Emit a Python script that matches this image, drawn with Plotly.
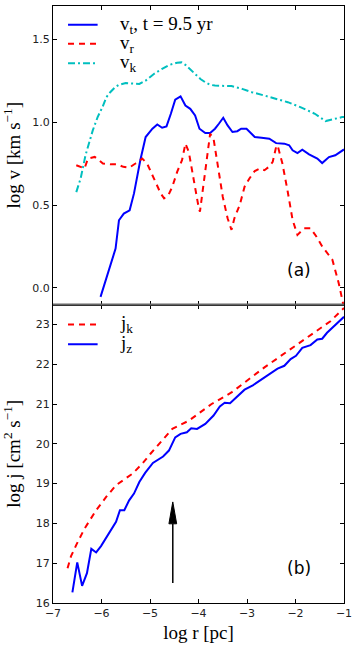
import plotly.graph_objects as go

# ---- panel (a): velocities ----
vt_x = [-6.02, -5.81, -5.71, -5.64, -5.54, -5.42, -5.33, -5.2, -5.14, -5.09, -4.95, -4.85,
        -4.75, -4.66, -4.57, -4.48, -4.37, -4.27, -4.17, -4.07, -3.98, -3.86, -3.76, -3.66,
        -3.58, -3.49, -3.40, -3.30, -3.20, -3.12, -3.01, -2.92, -2.84, -2.70, -2.54, -2.40,
        -2.23, -2.13, -2.06, -1.96, -1.86, -1.72, -1.62, -1.55, -1.45, -1.31, -1.18, -1.04, -1.0]
vt_y = [-0.054, 0.147, 0.237, 0.408, 0.448, 0.468, 0.57, 0.77, 0.85, 0.91, 0.96, 0.986,
        0.966, 0.974, 1.05, 1.135, 1.155, 1.10, 1.08, 1.04, 0.96, 0.934, 0.934, 0.96,
        0.99, 1.026, 0.98, 0.94, 0.945, 0.96, 0.96, 0.935, 0.91, 0.905, 0.90, 0.873,
        0.87, 0.86, 0.83, 0.813, 0.834, 0.805, 0.793, 0.78, 0.753, 0.789, 0.80, 0.83, 0.835]

vr_x = [-6.52, -6.43, -6.35, -6.28, -6.14, -6.05, -5.97, -5.8, -5.67, -5.55, -5.43, -5.3,
        -5.16, -5.06, -4.88, -4.78, -4.71, -4.62, -4.54, -4.44, -4.34, -4.27, -4.2, -4.1,
        -4.0, -3.97, -3.9, -3.83, -3.76, -3.69, -3.6, -3.5, -3.4, -3.32, -3.26, -3.15,
        -3.05, -2.95, -2.84, -2.74, -2.64, -2.55, -2.47, -2.40, -2.37, -2.27, -2.16, -2.06,
        -1.96, -1.82, -1.69, -1.57, -1.45, -1.35, -1.24, -1.11, -1.04, -1.0]
vr_y = [0.74, 0.73, 0.72, 0.78, 0.79, 0.77, 0.75, 0.745, 0.745, 0.73, 0.725, 0.75,
        0.78, 0.75, 0.63, 0.57, 0.54, 0.56, 0.61, 0.70, 0.77, 0.87, 0.82, 0.65,
        0.49, 0.46, 0.62, 0.80, 0.93, 0.90, 0.72, 0.55, 0.42, 0.35, 0.42, 0.50,
        0.61, 0.66, 0.705, 0.72, 0.71, 0.73, 0.76, 0.85, 0.86, 0.75, 0.58, 0.41,
        0.32, 0.36, 0.36, 0.31, 0.25, 0.21, 0.17, 0.03, -0.074, -0.12]

vk_x = [-6.52, -6.43, -6.33, -6.18, -6.08, -5.98, -5.9, -5.82, -5.72, -5.64, -5.5, -5.35,
        -5.22, -5.09, -4.92, -4.76, -4.6, -4.44, -4.35, -4.27, -4.1, -3.96, -3.86, -3.76,
        -3.66, -3.5, -3.32, -3.1, -2.9, -2.64, -2.4, -2.16, -1.9, -1.6, -1.38, -1.2, -1.04, -1.0]
vk_y = [0.578, 0.66, 0.80, 0.95, 1.03, 1.09, 1.15, 1.18, 1.21, 1.225, 1.235, 1.23,
        1.23, 1.25, 1.29, 1.32, 1.345, 1.358, 1.36, 1.345, 1.30, 1.26, 1.24, 1.225,
        1.22, 1.22, 1.217, 1.20, 1.18, 1.16, 1.14, 1.12, 1.09, 1.05, 1.006, 1.02, 1.03, 1.03]

# ---- panel (b): specific angular momentum ----
jk_x = [-6.70, -6.63, -6.52, -6.35, -6.11, -5.90, -5.70, -5.36, -5.16, -4.99, -4.54,
        -4.20, -3.73, -3.32, -2.64, -1.96, -1.28, -1.0]
jk_y = [16.875, 17.17, 17.46, 17.87, 18.33, 18.67, 18.96, 19.25, 19.5, 19.75, 20.375,
        20.58, 21.0, 21.29, 21.92, 22.5, 23.08, 23.415]

jz_x = [-6.60, -6.50, -6.40, -6.30, -6.21, -6.11, -6.01, -5.90, -5.80, -5.70, -5.62,
        -5.53, -5.43, -5.33, -5.22, -5.10, -4.94, -4.73, -4.61, -4.48, -4.37, -4.24,
        -4.15, -4.03, -3.86, -3.69, -3.56, -3.46, -3.35, -3.05, -2.88, -2.64, -2.37,
        -2.23, -2.10, -1.99, -1.86, -1.69, -1.55, -1.45, -1.35, -1.0]
jz_y = [16.265, 17.02, 16.43, 16.75, 17.36, 17.27, 17.43, 17.65, 17.82, 18.04, 18.33,
        18.33, 18.58, 18.75, 19.04, 19.27, 19.52, 19.68, 19.83, 20.16, 20.25, 20.29,
        20.39, 20.375, 20.5, 20.71, 20.94, 21.03, 21.02, 21.36, 21.47, 21.67, 21.89,
        21.96, 22.13, 22.21, 22.41, 22.48, 22.62, 22.64, 22.79, 23.19]

# arrow in panel (b)
arrow_x = -4.53
arrow_y0, arrow_y1 = 16.5, 18.54

BLUE, RED, CYAN = "#0000ff", "#ff0000", "#00bfbf"
DASH, DASHDOT = "6px,5px", "7px,3px,2px,3px"
SERIF = "Liberation Serif"
SANS = "DejaVu Sans"

fig = go.Figure()
fig.add_trace(go.Scatter(x=vt_x, y=vt_y, mode="lines", line=dict(color=BLUE, width=2),
                         xaxis="x", yaxis="y"))
fig.add_trace(go.Scatter(x=vr_x, y=vr_y, mode="lines",
                         line=dict(color=RED, width=2, dash=DASH), xaxis="x", yaxis="y"))
fig.add_trace(go.Scatter(x=vk_x, y=vk_y, mode="lines",
                         line=dict(color=CYAN, width=2, dash=DASHDOT), xaxis="x", yaxis="y"))
fig.add_trace(go.Scatter(x=jk_x, y=jk_y, mode="lines",
                         line=dict(color=RED, width=2, dash=DASH), xaxis="x2", yaxis="y2"))
fig.add_trace(go.Scatter(x=jz_x, y=jz_y, mode="lines", line=dict(color=BLUE, width=2),
                         xaxis="x2", yaxis="y2"))

axis_common = dict(showline=True, linecolor="black", linewidth=1, mirror="allticks",
                   ticks="inside", ticklen=4, tickcolor="black", showgrid=False,
                   zeroline=False, tickfont=dict(family=SANS, size=11, color="#222"))
title_font = dict(family=SERIF, size=19, color="black")

fig.update_layout(
    width=357, height=649,
    margin=dict(l=53, r=10, t=5, b=46),
    plot_bgcolor="white", paper_bgcolor="white",
    font=dict(color="black"),
    showlegend=False,
    xaxis=dict(domain=[0, 1], range=[-7, -1], dtick=1, anchor="y", showticklabels=False,
               **axis_common),
    yaxis=dict(domain=[0.5, 1], range=[-0.1, 1.7], tickvals=[0, 0.5, 1.0, 1.5],
               tickformat=".1f", anchor="x",
               title=dict(text="log v [km s<sup>−1</sup>]", font=title_font, standoff=10),
               **axis_common),
    xaxis2=dict(domain=[0, 1], range=[-7, -1], dtick=1, anchor="y2",
                title=dict(text="log r [pc]", font=title_font, standoff=6),
                **axis_common),
    yaxis2=dict(domain=[0, 0.5], range=[16, 23.5], dtick=1, anchor="x2",
                title=dict(text="log j [cm<sup>2</sup> s<sup>−1</sup>]", font=title_font,
                           standoff=10),
                **axis_common),
)

# legends drawn by hand so the row spacing matches the matplotlib original
legend_a = [("v<sub>t</sub>, t = 9.5 yr", BLUE, "solid", 1.587),
            ("v<sub>r</sub>", RED, DASH, 1.472),
            ("v<sub>k</sub>", CYAN, DASHDOT, 1.355)]
legend_b = [("j<sub>k</sub>", RED, DASH, 23.0),
            ("j<sub>z</sub>", BLUE, "solid", 22.5)]
for (items, xr, yr) in [(legend_a, "x", "y"), (legend_b, "x2", "y2")]:
    for label, color, dash, yv in items:
        fig.add_shape(type="line", xref=xr, yref=yr, x0=-6.69, x1=-6.08, y0=yv, y1=yv,
                      line=dict(color=color, width=2, dash=dash))
        fig.add_annotation(x=-5.67, y=yv, xref=xr, yref=yr, text=label, showarrow=False,
                           xanchor="left", yanchor="middle",
                           font=dict(family=SERIF, size=19, color="black"))

fig.add_annotation(x=-1.92, y=0.107, xref="x", yref="y", text="(a)", showarrow=False,
                   font=dict(family=SANS, size=17, color="black"))
fig.add_annotation(x=-1.92, y=16.88, xref="x2", yref="y2", text="(b)", showarrow=False,
                   font=dict(family=SANS, size=17, color="black"))

# arrow: shaft + long narrow head
head_len, head_half = 0.55, 0.08
fig.add_shape(type="line", xref="x2", yref="y2", x0=arrow_x, x1=arrow_x,
              y0=arrow_y0, y1=arrow_y1 - head_len, line=dict(color="black", width=1.5))
fig.add_shape(type="path", xref="x2", yref="y2",
              path=f"M {arrow_x - head_half},{arrow_y1 - head_len} L {arrow_x},{arrow_y1} "
                   f"L {arrow_x + head_half},{arrow_y1 - head_len} Z",
              fillcolor="black", line=dict(color="black", width=1))

# shared boundary between the panels
fig.add_shape(type="line", xref="paper", yref="paper", x0=0, x1=1, y0=0.5, y1=0.5,
              line=dict(color="#666", width=2))

fig.write_html("out.html", config={"displayModeBar": False},
               post_script="document.body.style.margin='0px';")
